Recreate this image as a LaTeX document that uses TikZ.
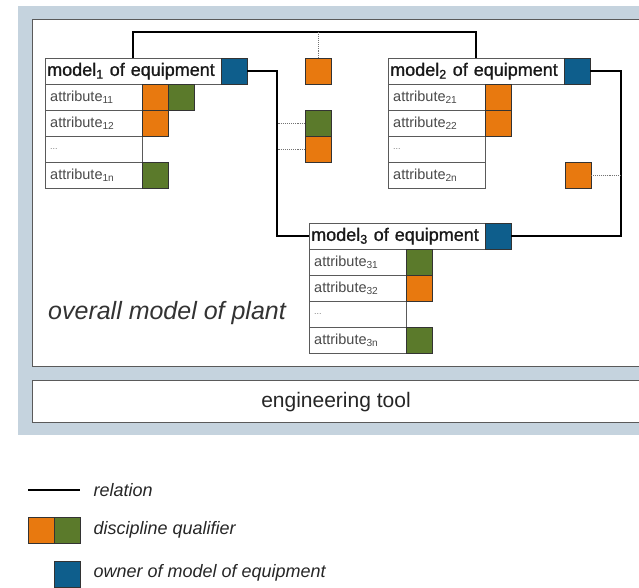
\documentclass[tikz,border=0pt]{standalone}
\usepackage{fontspec}
\setmainfont{Liberation Sans}
\newfontfamily\hdrfont[FakeBold=1.0]{Liberation Sans}
\definecolor{qorange}{HTML}{E8790F}
\definecolor{qgreen}{HTML}{5B7A2B}
\definecolor{qblue}{HTML}{0E5E8C}
\definecolor{bgblue}{HTML}{C5D3DE}
\definecolor{boxline}{HTML}{5A5A5A}
\definecolor{attrgray}{HTML}{4A4A4A}
\begin{document}
\begin{tikzpicture}[x=1pt,y=-1pt,
  hdr/.style={draw=boxline, fill=white, anchor=north west, minimum height=26pt, text width=172pt, inner xsep=2pt, inner ysep=0pt, font=\hdrfont\fontsize{18}{18}\selectfont, text=black!90, align=left},
  attr/.style={draw=boxline, fill=white, anchor=north west, minimum height=26pt, text width=87pt, inner xsep=5pt, inner ysep=0pt, font=\fontsize{14.5}{15}\selectfont, text=attrgray, align=left},
  sq/.style={draw=black!80, anchor=north west, minimum width=26pt, minimum height=26pt, inner sep=0pt},
  og/.style={sq, fill=qorange},
  gr/.style={sq, fill=qgreen},
  bl/.style={sq, fill=qblue},
  rel/.style={line width=2.4pt, black},
  dots/.style={densely dotted, line width=0.9pt, black!55},
  legtext/.style={anchor=west, font=\fontsize{18}{18}\selectfont\itshape, text=black!85}
]
\useasboundingbox (0,0) rectangle (639,587);
\clip (0,0) rectangle (639,587);
% backgrounds
\fill[bgblue] (18,6) rectangle (680,435);
\draw[boxline, fill=white, line width=0.8pt] (32,19) rectangle (680,366);
\draw[boxline, fill=white, line width=0.8pt] (32,380) rectangle (680,422);
\node[font=\fontsize{21}{21}\selectfont, text=black!85] (tool) at (336,402) {engineering tool};
\node[anchor=west, font=\fontsize{25}{25}\selectfont\itshape, text=black!80, inner sep=0pt] (plant) at (48,313) {overall model of plant};

% coordinates for relation buses
\coordinate (topc) at (300,32);
\coordinate (busL) at (277,150);
\coordinate (busR) at (621,150);

% free qualifiers
\node[og] (q1) at (305,58) {};
\node[gr] (q2) at (305,110) {};
\node[og] (q3) at (305,136) {};
\node[og] (q4) at (565,162) {};

% model 1
\node[hdr] (m1) at (45,58) {\mbox{model\textsubscript{1} of equipment}};
\node[bl] (m1o) at (221,58) {};
\node[attr] (a11) at (45,84) {attribute\textsubscript{11}};
\node[attr] (a12) at (45,110) {attribute\textsubscript{12}};
\node[attr] (a13) at (45,136) {\textcolor{black!50}{\fontsize{9}{9}\selectfont ...}};
\node[attr] (a14) at (45,162) {attribute\textsubscript{1n}};
\node[og] (s111) at (142,84) {};
\node[gr] (s112) at (168,84) {};
\node[og] (s12) at (142,110) {};
\node[gr] (s14) at (142,162) {};

% model 2
\node[hdr] (m2) at (388,58) {\mbox{model\textsubscript{2} of equipment}};
\node[bl] (m2o) at (564,58) {};
\node[attr] (a21) at (388,84) {attribute\textsubscript{21}};
\node[attr] (a22) at (388,110) {attribute\textsubscript{22}};
\node[attr] (a23) at (388,136) {\textcolor{black!50}{\fontsize{9}{9}\selectfont ...}};
\node[attr] (a24) at (388,162) {attribute\textsubscript{2n}};
\node[og] (s21) at (485,84) {};
\node[og] (s22) at (485,110) {};

% model 3
\node[hdr] (m3) at (309,223) {\mbox{model\textsubscript{3} of equipment}};
\node[bl] (m3o) at (485,223) {};
\node[attr] (a31) at (309,249) {attribute\textsubscript{31}};
\node[attr] (a32) at (309,275) {attribute\textsubscript{32}};
\node[attr] (a33) at (309,301) {\textcolor{black!50}{\fontsize{9}{9}\selectfont ...}};
\node[attr] (a34) at (309,327) {attribute\textsubscript{3n}};
\node[gr] (s31) at (406,249) {};
\node[og] (s32) at (406,275) {};
\node[gr] (s34) at (406,327) {};

% relations
\draw[rel] (m1.north) |- (topc) -| (m2.north);
\draw[rel] (m1o.east) -| (busL |- m3.west) -- (m3.west);
\draw[rel] (m2o.east) -| (busR |- m3o.east) -- (m3o.east);

% dotted links
\draw[dots] (q1.north) -- (q1.north |- topc);
\draw[dots] (q2.west) -- (busL |- q2.west);
\draw[dots] (q3.west) -- (busL |- q3.west);
\draw[dots] (q4.east) -- (busR |- q4.east);

% legend
\coordinate (l1a) at (28,490);
\coordinate (l1b) at (80,490);
\draw[line width=1.6pt] (l1a) -- (l1b);
\node[legtext] (t1) at (90,490) {relation};
\node[og] (lq1) at (28,517) {};
\node[gr] (lq2) at (54,517) {};
\node[legtext] (t2) at (90,530) {discipline qualifier};
\node[bl] (lb) at (54,561) {};
\node[legtext] (t3) at (90,573) {owner of model of equipment};
\end{tikzpicture}
\end{document}
